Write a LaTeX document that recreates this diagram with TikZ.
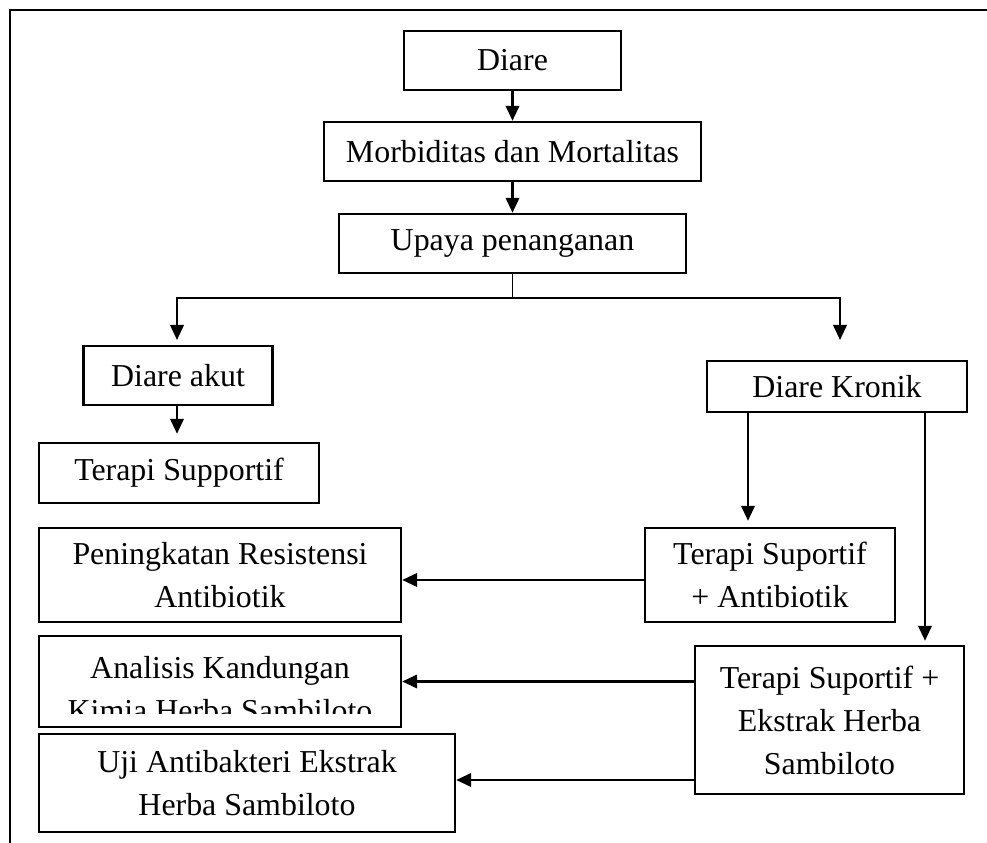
\documentclass[tikz,border=0pt]{standalone}
\usepackage{fontspec}
\setmainfont{Liberation Serif}
\usepackage{tikz}
\usetikzlibrary{positioning,arrows.meta}

\begin{document}
\begin{tikzpicture}[
  box/.style={draw, line width=1.4pt, align=center, inner sep=0pt, font=\fontsize{18.15}{24.5}\selectfont},
  txt/.style={align=center, inner sep=0pt, font=\fontsize{18.15}{24.5}\selectfont},
  arr/.style={-{Triangle[length=3mm, width=2.7mm]}, line width=1.3pt},
  frame/.style={line width=0.9pt}]
\useasboundingbox (0,0) rectangle (19.74,16.86);
\draw[frame] (0.2,0) |- (19.74,16.66);
\node[box, minimum width=4.34cm, minimum height=1.18cm] (diare) at (10.25,15.65) {Diare};
\node[box, minimum width=7.54cm, minimum height=1.18cm] (morb) at (10.25,13.83) {Morbiditas dan Mortalitas};
\node[box, minimum width=6.94cm, minimum height=1.18cm] (upaya) at (10.25,11.99) {Upaya penanganan};
\node[box, minimum width=3.78cm, minimum height=1.18cm] (akut) at (3.56,9.35) {Diare akut};
\node[box, minimum width=5.6cm, minimum height=1.2cm] (supp) at (3.58,7.40) {Terapi Supportif};
\node[box, minimum width=5.2cm, minimum height=1.02cm] (kronik) at (16.74,9.13) {Diare Kronik};
\node[box, minimum width=5.0cm, minimum height=1.88cm] (antib) at (15.4,5.36) {Terapi Suportif\\+ Antibiotik};
\node[box, minimum width=5.38cm, minimum height=2.96cm] (ekstrak) at (16.59,2.46) {Terapi Suportif +\\Ekstrak Herba\\Sambiloto};
\node[box, minimum width=7.24cm, minimum height=1.88cm] (resist) at (4.4,5.36) {Peningkatan Resistensi\\Antibiotik};
\node[box, minimum width=7.24cm, minimum height=1.82cm] (analisis) at (4.4,3.23) {};
\begin{scope}
\clip (analisis.north west) rectangle (analisis.east |- 0,2.58);
\node[txt] (analisistxt) at ([yshift=-1.5mm]analisis.center) {Analisis Kandungan\\Kimia Herba Sambiloto};
\end{scope}
\node[box, minimum width=8.32cm, minimum height=1.96cm] (uji) at (4.94,1.2) {Uji Antibakteri Ekstrak\\Herba Sambiloto};
\coordinate (akutin) at (3.54,10.06);
\coordinate (kronikin) at (16.8,10.06);
\draw[arr] (diare) -- (morb);
\draw[arr] (morb) -- (upaya);
\draw[line width=0.7pt] (upaya.south) -- ++(0,-0.48) coordinate (fork);
\draw[arr] (fork) -| (akutin);
\draw[arr] (fork) -| (kronikin);
\draw[arr, shorten >=1.6mm] (akut.south -| akutin) -- (supp.north -| akutin);
\draw[arr, shorten >=1.2mm] (kronik.south -| 14.96,0) -- (antib.north -| 14.96,0);
\draw[arr, shorten >=0.8mm] (kronik.south -| 18.5,0) -- (ekstrak.north -| 18.5,0);
\draw[arr] ([yshift=-1mm]antib.west) -- ([yshift=-1mm]resist.east);
\draw[arr] (ekstrak.west |- analisis) -- (analisis.east);
\draw[arr] ([yshift=0.6mm]ekstrak.west |- uji) -- ([yshift=0.6mm]uji.east);
\end{tikzpicture}
\end{document}
